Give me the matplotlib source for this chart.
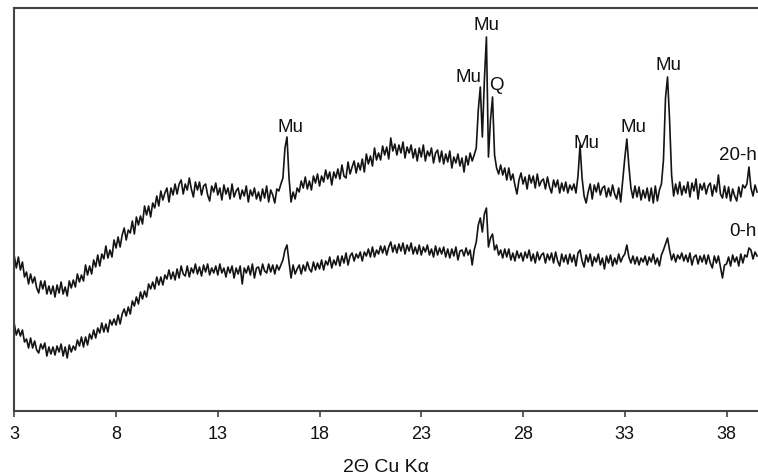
import numpy as np
import matplotlib
matplotlib.use("Agg")
import matplotlib.pyplot as plt

plt.rcParams['font.family'] = ['Liberation Sans', 'DejaVu Sans']

# Scan settings (degrees 2-theta)
scan_start = 3.0
scan_step = 0.1
n_points = 366

# Intensity (arbitrary units), sample after 20 h
intensity_20h = [
    154, 142, 153, 140, 148, 133, 138, 126, 136, 127,
    133, 122, 117, 129, 121, 129, 116, 124, 116, 124,
    113, 125, 117, 128, 116, 123, 114, 129, 122, 130,
    123, 136, 128, 135, 129, 145, 135, 144, 136, 150,
    143, 155, 144, 156, 151, 164, 152, 160, 153, 170,
    162, 173, 163, 175, 182, 170, 180, 177, 189, 176,
    193, 185, 194, 186, 204, 195, 204, 193, 207, 202,
    214, 204, 219, 210, 217, 222, 208, 222, 215, 226,
    216, 226, 230, 216, 226, 220, 232, 221, 213, 228,
    220, 228, 215, 224, 226, 215, 209, 224, 218, 227,
    215, 222, 210, 225, 216, 222, 211, 226, 213, 219,
    222, 211, 220, 214, 224, 208, 220, 214, 222, 211,
    218, 209, 221, 212, 224, 208, 220, 215, 207, 221,
    219, 226, 232, 262, 273, 232, 208, 218, 211, 222,
    218, 229, 222, 233, 221, 229, 220, 234, 227, 236,
    224, 234, 228, 240, 231, 238, 225, 238, 232, 241,
    231, 245, 234, 232, 248, 236, 243, 249, 237, 247,
    240, 251, 238, 256, 246, 254, 244, 262, 250, 257,
    250, 264, 255, 263, 251, 272, 259, 266, 255, 265,
    257, 268, 252, 263, 257, 265, 252, 261, 249, 262,
    253, 265, 249, 259, 254, 262, 247, 257, 260, 248,
    259, 246, 256, 248, 259, 242, 253, 247, 256, 244,
    252, 238, 254, 245, 257, 249, 255, 262, 300, 323,
    273, 330, 373, 253, 290, 313, 255, 242, 236, 245,
    235, 242, 230, 242, 230, 236, 225, 216, 230, 237,
    226, 233, 221, 235, 227, 234, 222, 236, 224, 229,
    231, 221, 233, 223, 217, 230, 223, 230, 217, 227,
    219, 228, 217, 225, 220, 226, 217, 234, 265, 232,
    214, 207, 218, 226, 211, 225, 218, 227, 215, 222,
    224, 213, 222, 214, 225, 216, 211, 222, 208, 230,
    252, 271, 244, 222, 212, 224, 213, 223, 210, 220,
    212, 222, 209, 222, 207, 224, 209, 220, 226, 250,
    312, 333, 290, 235, 214, 226, 216, 228, 215, 224,
    217, 228, 213, 227, 219, 231, 211, 226, 220, 227,
    216, 224, 227, 214, 225, 218, 235, 216, 212, 224,
    212, 223, 209, 221, 214, 209, 223, 213, 225, 222,
    226, 243, 222, 214, 225, 218,
]

# Intensity (arbitrary units), untreated sample
intensity_0h = [
    86, 75, 81, 74, 80, 68, 71, 62, 72, 62,
    69, 60, 57, 66, 61, 67, 54, 63, 56, 63,
    55, 64, 58, 66, 54, 63, 52, 65, 58, 64,
    60, 70, 64, 73, 63, 73, 65, 76, 71, 80,
    72, 82, 77, 87, 78, 86, 78, 90, 85, 91,
    85, 95, 86, 96, 101, 94, 103, 96, 109, 104,
    113, 106, 118, 111, 119, 113, 126, 121, 128, 121,
    133, 125, 133, 125, 135, 131, 140, 131, 138, 130,
    141, 132, 144, 136, 134, 144, 133, 142, 137, 146,
    136, 143, 134, 145, 138, 146, 135, 142, 137, 144,
    135, 146, 137, 142, 133, 143, 137, 144, 132, 142,
    136, 144, 126, 142, 137, 144, 135, 146, 132, 142,
    143, 135, 146, 139, 137, 146, 138, 145, 136, 145,
    140, 145, 150, 160, 165, 148, 132, 145, 136, 141,
    145, 136, 145, 139, 148, 141, 138, 148, 140, 147,
    141, 150, 140, 149, 145, 153, 142, 150, 145, 154,
    144, 154, 147, 157, 145, 154, 157, 149, 156, 152,
    158, 149, 158, 154, 161, 153, 163, 153, 160, 156,
    164, 157, 164, 155, 163, 168, 158, 165, 157, 166,
    159, 167, 156, 165, 159, 167, 156, 163, 156, 165,
    155, 163, 158, 165, 155, 161, 153, 164, 155, 162,
    156, 163, 153, 161, 152, 161, 154, 163, 150, 159,
    160, 154, 162, 155, 160, 145, 160, 168, 185, 192,
    178, 196, 202, 163, 172, 176, 160, 165, 155, 160,
    152, 161, 153, 161, 150, 157, 149, 159, 152, 157,
    149, 158, 152, 160, 149, 156, 147, 158, 150, 155,
    157, 147, 156, 150, 157, 147, 158, 149, 144, 156,
    148, 155, 146, 156, 148, 155, 144, 157, 160, 149,
    143, 155, 148, 156, 144, 153, 148, 156, 145, 152,
    141, 154, 147, 155, 144, 152, 146, 156, 148, 153,
    156, 165, 153, 147, 154, 146, 153, 145, 152, 148,
    154, 145, 153, 148, 156, 146, 152, 144, 155, 160,
    166, 172, 160, 150, 156, 148, 155, 151, 157, 149,
    155, 148, 157, 145, 153, 155, 146, 154, 148, 155,
    146, 155, 147, 142, 154, 147, 154, 143, 132, 145,
    146, 153, 144, 155, 148, 153, 144, 156, 147, 155,
    153, 162, 160, 151, 158, 154,
]

# Phase labels: text, 2-theta, intensity
peak_labels = ["Mu", "Mu", "Mu", "Q", "Mu", "Mu", "Mu"]
peak_label_x = [16.58, 25.31, 26.21, 26.71, 31.13, 33.40, 35.14]
peak_label_y = [282, 332, 385, 325, 267, 282, 345]

series_names = ["20-h", "0-h"]
series_label_y = [255, 179]

x_ticks = [3, 8, 13, 18, 23, 28, 33, 38]

two_theta = scan_start + scan_step * np.arange(n_points)

W, H = 758, 476
fig = plt.figure(figsize=(W / 100, H / 100), dpi=100)
ax = fig.add_axes([14.3 / W, (H - 411) / H, 1 - 14.3 / W, (411 - 8) / H])

line_color = "#141414"
ax.plot(two_theta, intensity_20h, color=line_color, lw=1.2)
ax.plot(two_theta, intensity_0h, color=line_color, lw=1.2)

for txt, px, py in zip(peak_labels, peak_label_x, peak_label_y):
    ax.text(px, py, txt, ha="center", va="center", fontsize=13.5, color="#111111")

for name, py in zip(series_names, series_label_y):
    ax.text(39.49, py, name, ha="right", va="center", fontsize=13.5, color="#111111")

ax.set_xlim(3, 3 + (W - 14.3) / 20.35)
ax.set_ylim(-1, 402)
ax.set_xticks(x_ticks)
ax.set_xticklabels([str(t) for t in x_ticks])
ax.set_yticks([])

spine_color = "#444444"
for side in ("left", "bottom", "top"):
    ax.spines[side].set_color(spine_color)
    ax.spines[side].set_linewidth(1.5)
ax.spines["right"].set_visible(False)

ax.tick_params(axis="x", direction="out", length=4, width=1.2, color=spine_color,
               labelsize=13, pad=7, labelcolor="#111111")
ax.set_xlabel("2\u0398 Cu K\u03b1", fontsize=14, labelpad=11, color="#111111")

fig.savefig("out.png", dpi=100)
